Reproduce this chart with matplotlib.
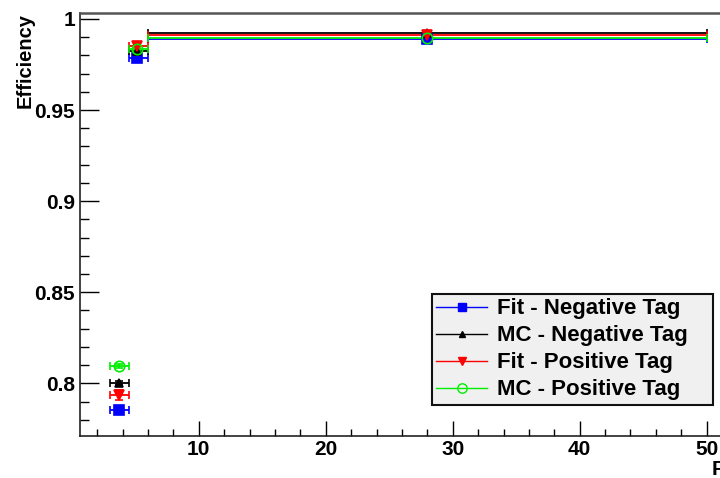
import numpy as np
import matplotlib; matplotlib.use("Agg")
import matplotlib.pyplot as plt
from matplotlib.lines import Line2D

plt.rcParams["font.family"] = ["Liberation Sans", "DejaVu Sans"]
plt.rcParams["font.weight"] = "bold"

# bins (x mean, low edge, high edge)
X = np.array([3.7, 5.17, 28.0])
X_LO = np.array([3.0, 4.5, 6.0])
X_HI = np.array([4.5, 6.0, 50.0])

fit_neg = [0.7855, 0.9784, 0.9889]
fit_neg_err = [0.002, 0.0015, 0.0005]
mc_neg = [0.8003, 0.9824, 0.9921]
mc_neg_err = [0.001, 0.0005, 0.0002]
fit_pos = [0.7936, 0.9853, 0.9911]
fit_pos_err = [0.003, 0.002, 0.0005]
mc_pos = [0.8096, 0.9834, 0.9894]
mc_pos_err = [0.001, 0.0008, 0.0003]

SERIES = [
    ("Fit - Negative Tag", fit_neg, fit_neg_err, "#0000ff", "s", 6.5, "#0000ff"),
    ("MC - Negative Tag", mc_neg, mc_neg_err, "#000000", "^", 5.5, "#000000"),
    ("Fit - Positive Tag", fit_pos, fit_pos_err, "#ff0000", "v", 7.0, "#ff0000"),
    ("MC - Positive Tag", mc_pos, mc_pos_err, "#00ee00", "o", 7.5, "none"),
]

W, H = 720, 478
fig = plt.figure(figsize=(W / 100, H / 100), dpi=100)
ax = fig.add_axes([80 / W, (H - 436) / H, 0.9233, (436 - 13.3) / H])

xerr = [X - X_LO, X_HI - X]
for name, y, ye, col, mk, ms, mfc in SERIES:
    ax.errorbar(X, y, xerr=xerr, yerr=ye, fmt=mk, color=col, ms=ms, mfc=mfc,
                mec=col, mew=1.2, elinewidth=1.3, capsize=3, capthick=1.3)

ax.set_xlim(0.65, 53)
ax.set_ylim(0.7711, 1.0031)
ax.set_xticks([10, 20, 30, 40, 50])
ax.set_xticks(np.arange(2, 53, 2), minor=True)
ax.set_yticks([0.8, 0.85, 0.9, 0.95, 1.0])
ax.set_yticklabels(["0.8", "0.85", "0.9", "0.95", "1"])
ax.set_yticks(np.arange(0.78, 1.0, 0.01), minor=True)
ax.tick_params(axis="both", which="both", direction="in", top=False, right=False,
               labelsize=15, width=1)
ax.tick_params(axis="y", which="major", length=13.5, pad=3.5)
ax.tick_params(axis="y", which="minor", length=6.7)
ax.tick_params(axis="x", which="major", length=10.5, pad=3)
ax.tick_params(axis="x", which="minor", length=5)
for lab in ax.get_xticklabels() + ax.get_yticklabels():
    lab.set_fontweight("bold")
for s in ("left", "bottom"):
    ax.spines[s].set_color("#222222"); ax.spines[s].set_linewidth(1.2)
ax.spines["top"].set_color("#555555"); ax.spines["top"].set_linewidth(1.8)

fig.text(25 / W, 1 - 12.7 / H, "Efficiency", rotation=90, ha="center", va="top",
         fontsize=14.5, fontweight="bold")
fig.text(711.7 / W, 1 - 460 / H, "P", ha="left", va="top", fontsize=15, fontweight="bold")

handles = [Line2D([], [], color=col, marker=mk, ms=ms * 0.9, mfc=mfc, mec=col, lw=1)
           for name, y, ye, col, mk, ms, mfc in SERIES]
labels = [s[0] for s in SERIES]
leg = fig.legend(handles, labels, loc="upper left",
                 bbox_to_anchor=(431.7 / W, 1 - 294 / H, 281 / W, 0), mode="expand",
                 fancybox=False, facecolor="#f0f0f0", edgecolor="#111111", framealpha=1,
                 prop={"size": 16, "weight": "bold"}, handlelength=2.3, handletextpad=0.45,
                 borderpad=0.2, labelspacing=0.27, borderaxespad=0)
leg.get_frame().set_linewidth(1.5)

fig.savefig("out.png", dpi=100)
